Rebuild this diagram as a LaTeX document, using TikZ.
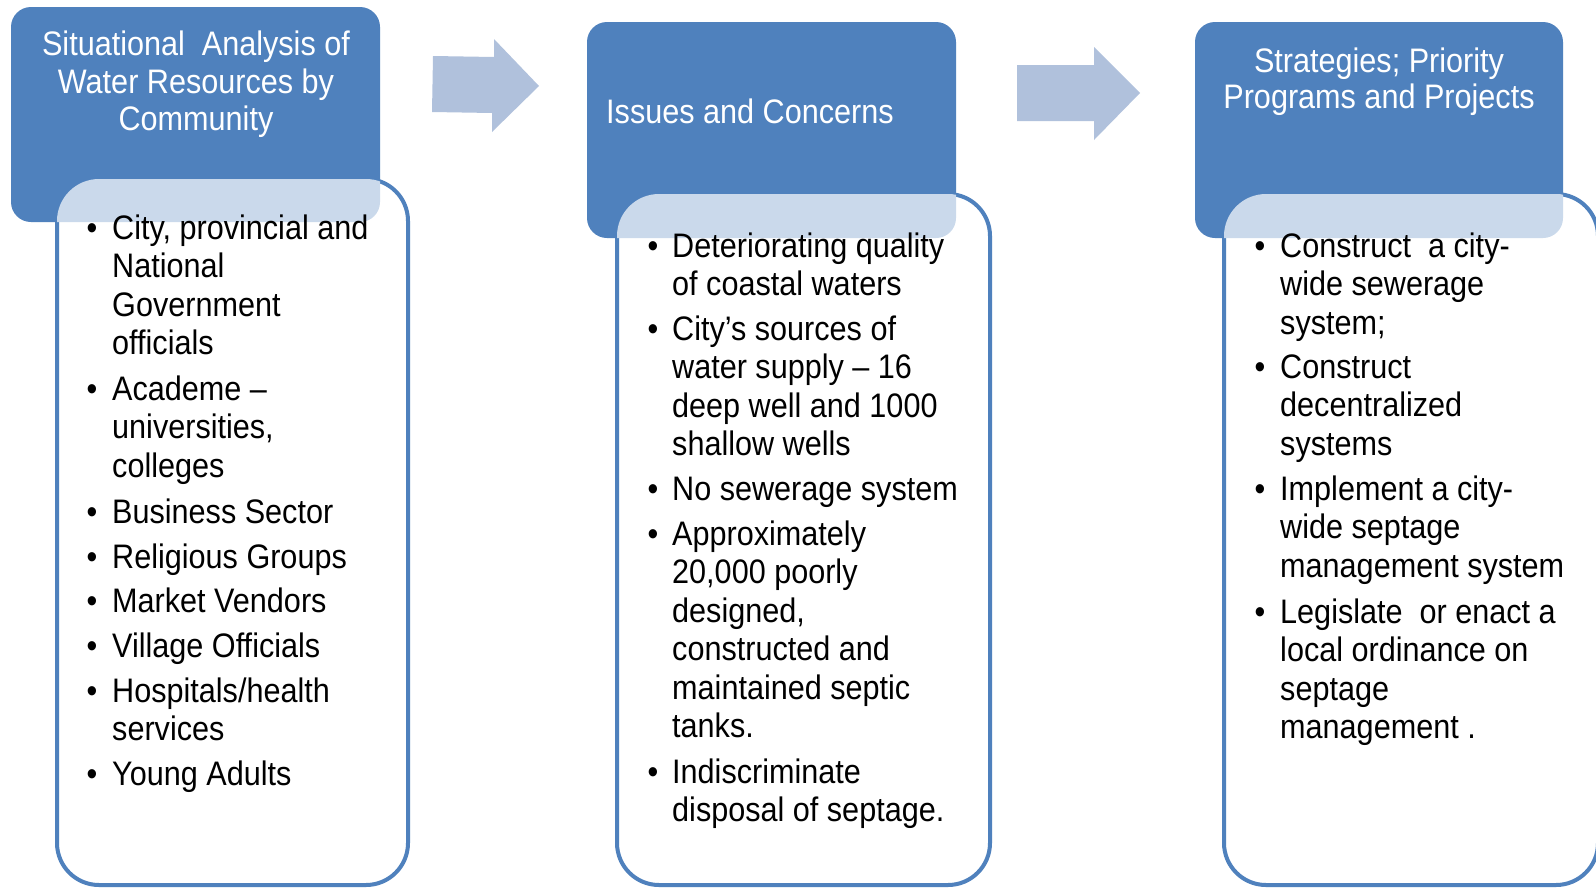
\documentclass[tikz,border=0pt]{standalone}
\usepackage{fontspec}
\setmainfont{Liberation Sans}[FakeStretch=0.9]
\definecolor{hdr}{HTML}{4F81BD}
\definecolor{arr}{HTML}{B0C1DC}
\tikzset{
  hdrbox/.style={fill=hdr, rounded corners=20pt, inner sep=0pt, outer sep=0pt, anchor=north west},
  listbox/.style={draw=hdr, line width=4pt, fill=white, rounded corners=42pt, inner sep=0pt, outer sep=0pt, anchor=north west},
  tint/.style={fill=hdr!30!white},
  body/.style={font=\fontsize{34}{38.5}\selectfont, inner sep=0pt, text=black},
  ttl/.style={font=\fontsize{34}{37}\selectfont, inner sep=0pt, text=white},
  blockarrow/.style={fill=arr},
}
\newcommand\blist[5]{%
  \node[body, anchor=base] (#1) at (#2,#4) {\textbullet};
  \foreach \ln [count=\k from 0] in {#5} {\node[body, anchor=base west] (#1-\k) at (#3,#4+38.5*\k) {\ln};}
}
\begin{document}
\begin{tikzpicture}[x=1pt,y=-1pt]
\useasboundingbox (0,0) rectangle (1596,889);
\fill[white] (0,0) rectangle (1596,889);
% header boxes
\node[hdrbox, minimum width=369pt, minimum height=215pt] (h1) at (11,7) {};
\node[hdrbox, minimum width=369pt, minimum height=216pt] (h2) at (587,22) {};
\node[hdrbox, minimum width=368pt, minimum height=216pt] (h3) at (1195,22) {};
% list boxes
\node[listbox, minimum width=351pt, minimum height=706pt] (l1) at (57,179) {};
\node[listbox, minimum width=373pt, minimum height=691pt] (l2) at (617,194) {};
\node[listbox, minimum width=374pt, minimum height=691pt] (l3) at (1224,194) {};
% translucent overlap
\foreach \i in {1,2,3}{
  \begin{scope}
    \clip[rounded corners=20pt] (h\i.north west) rectangle (h\i.south east);
    \fill[tint, rounded corners=42pt] (l\i.north west) rectangle (l\i.south east);
  \end{scope}
}
% block arrows
\fill[blockarrow] (433,56) -- (494,57) -- (494,39) -- (539,86) -- (492,132) -- (492,113) -- (432,112) -- cycle;
\fill[blockarrow] (1017,65) -- (1094,65) -- (1094,47) -- (1140,93) -- (1094,140) -- (1094,121) -- (1017,121) -- cycle;
% titles
\node[ttl, anchor=base] (t1a) at (196,55) {Situational\ \ Analysis of};
\node[ttl, anchor=base] (t1b) at (196,93) {Water Resources by};
\node[ttl, anchor=base] (t1c) at (196,130) {Community};
\node[ttl, anchor=base west] (t2a) at (606,123) {Issues and Concerns};
\node[ttl, anchor=base] (t3a) at (1379,72) {Strategies; Priority};
\node[ttl, anchor=base] (t3b) at (1379,108) {Programs and Projects};
% box 1 items
\blist{a1}{92}{112}{239}{{City, provincial and},National,Government,officials}
\blist{a2}{92}{112}{400}{Academe –,{universities,},colleges}
\blist{a3}{92}{112}{523}{Business Sector}
\blist{a4}{92}{112}{568}{Religious Groups}
\blist{a5}{92}{112}{612}{Market Vendors}
\blist{a6}{92}{112}{657}{Village Officials}
\blist{a7}{92}{112}{702}{Hospitals/health,services}
\blist{a8}{92}{112}{785}{Young Adults}
% box 2 items
\blist{b1}{653}{672}{257}{Deteriorating quality,of coastal waters}
\blist{b2}{653}{672}{340}{City’s sources of,water supply – 16,deep well and 1000,shallow wells}
\blist{b3}{653}{672}{500}{No sewerage system}
\blist{b4}{653}{672}{545}{Approximately,{20,000 poorly},{designed,},constructed and,maintained septic,tanks.}
\blist{b5}{653}{672}{783}{Indiscriminate,disposal of septage.}
% box 3 items
\blist{c1}{1260}{1280}{257}{Construct\ \ a city-,wide sewerage,system;}
\blist{c2}{1260}{1280}{378}{Construct,decentralized,systems}
\blist{c3}{1260}{1280}{500}{Implement a city-,wide septage,management system}
\blist{c4}{1260}{1280}{623}{Legislate\ \ or enact a,local ordinance on,septage,management\ .}
\end{tikzpicture}
\end{document}
